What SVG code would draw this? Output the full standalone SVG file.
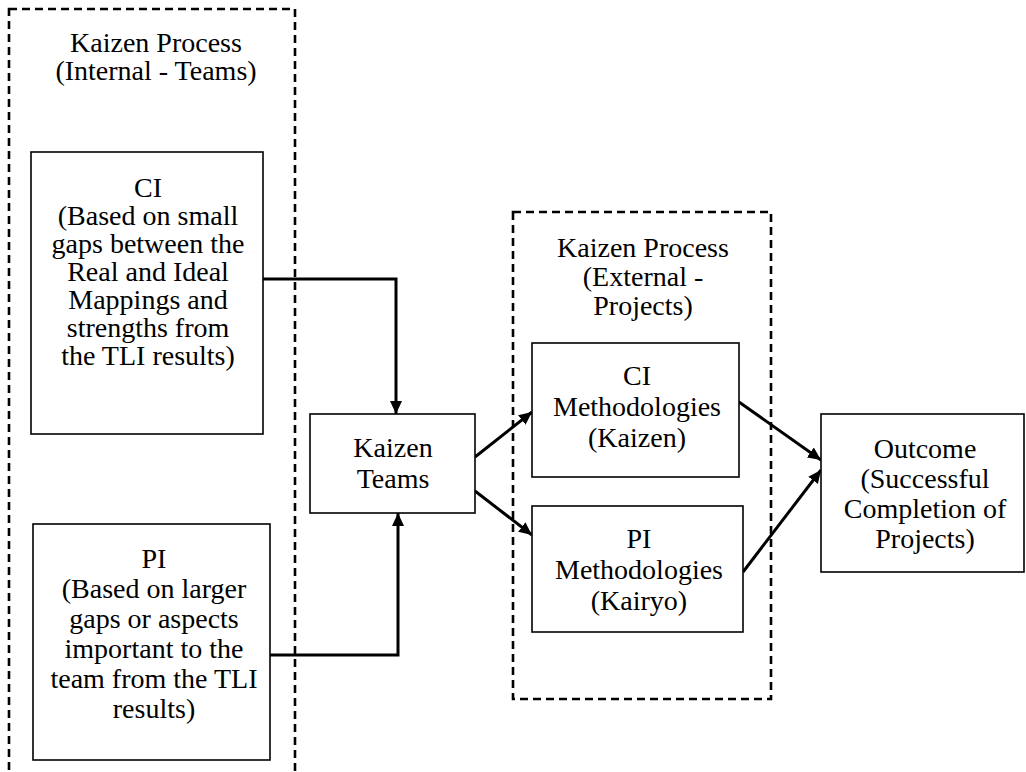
<svg xmlns="http://www.w3.org/2000/svg" width="1026" height="772" viewBox="0 0 1026 772">
  <style>
    .bg { fill: #ffffff; }
    .group { fill: none; stroke: #000; stroke-width: 2.6; stroke-dasharray: 8 5; }
    .box { fill: #ffffff; stroke: #000; stroke-width: 1.6; }
    .edge { fill: none; stroke: #000; stroke-width: 3; marker-end: url(#arrow); }
    text { font-family: "Liberation Serif", "Times New Roman", serif; font-size: 28px; fill: #000; text-anchor: middle; }
  </style>
  <defs>
    <marker id="arrow" markerUnits="userSpaceOnUse" markerWidth="14" markerHeight="14" refX="13" refY="7" orient="auto">
      <path d="M0,1 L13,7 L0,13 z" fill="#000"/>
    </marker>
  </defs>

  <rect class="bg" x="0" y="0" width="1026" height="772"/>

  <!-- internal (team) process group -->
  <g id="group-internal">
    <rect class="group" x="9" y="9" width="286" height="790"/>
    <text x="156" y="52">Kaizen Process</text>
    <text x="156" y="80">(Internal - Teams)</text>
  </g>

  <!-- external (project) process group -->
  <g id="group-external">
    <rect class="group" x="513" y="212" width="258" height="487"/>
    <text x="643" y="257">Kaizen Process</text>
    <text x="643" y="286">(External -</text>
    <text x="643" y="315">Projects)</text>
  </g>

  <g id="connectors">
    <polyline class="edge" points="263,279 396,279 396,414"/>
    <polyline class="edge" points="270,655 398,655 398,513"/>
    <line class="edge" x1="475" y1="457" x2="532" y2="412"/>
    <line class="edge" x1="475" y1="491" x2="532" y2="535"/>
    <line class="edge" x1="739" y1="402" x2="821" y2="460"/>
    <line class="edge" x1="743" y1="572" x2="821" y2="470"/>
  </g>

  <g id="node-ci">
    <rect class="box" x="31" y="152" width="232" height="282"/>
    <text x="148" y="197">CI</text>
    <text x="148" y="225">(Based on small</text>
    <text x="148" y="253">gaps between the</text>
    <text x="148" y="281">Real and Ideal</text>
    <text x="148" y="309">Mappings and</text>
    <text x="148" y="337">strengths from</text>
    <text x="148" y="365">the TLI results)</text>
  </g>

  <g id="node-pi">
    <rect class="box" x="33" y="524" width="237" height="236"/>
    <text x="154" y="568">PI</text>
    <text x="154" y="598">(Based on larger</text>
    <text x="154" y="628">gaps or aspects</text>
    <text x="154" y="658">important to the</text>
    <text x="154" y="688">team from the TLI</text>
    <text x="154" y="718">results)</text>
  </g>

  <g id="node-kaizen-teams">
    <rect class="box" x="310" y="414" width="165" height="99"/>
    <text x="393" y="457">Kaizen</text>
    <text x="393" y="488">Teams</text>
  </g>

  <g id="node-ci-methodologies">
    <rect class="box" x="532" y="343" width="207" height="134"/>
    <text x="637" y="385">CI</text>
    <text x="637" y="416">Methodologies</text>
    <text x="637" y="447">(Kaizen)</text>
  </g>

  <g id="node-pi-methodologies">
    <rect class="box" x="532" y="506" width="211" height="126"/>
    <text x="639" y="548">PI</text>
    <text x="639" y="579">Methodologies</text>
    <text x="639" y="610">(Kairyo)</text>
  </g>

  <g id="node-outcome">
    <rect class="box" x="821" y="414" width="203" height="158"/>
    <text x="925" y="458">Outcome</text>
    <text x="925" y="488">(Successful</text>
    <text x="925" y="518">Completion of</text>
    <text x="925" y="548">Projects)</text>
  </g>
</svg>
